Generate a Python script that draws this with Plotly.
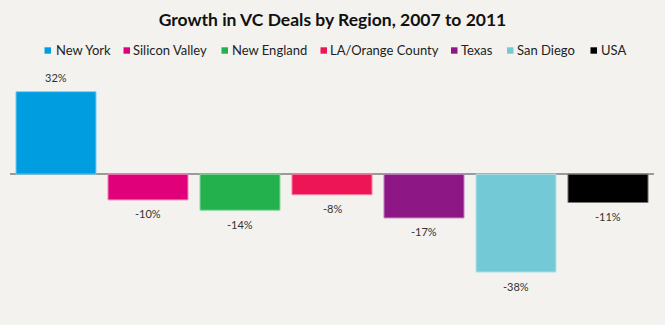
import plotly.graph_objects as go

regions = ["New York", "Silicon Valley", "New England", "LA/Orange County", "Texas", "San Diego", "USA"]
growth = [32, -10, -14, -8, -17, -38, -11]
colors = ["#009EE0", "#E0007A", "#22B14C", "#EE1556", "#8E1786", "#73CAD6", "#000000"]
edges = ["#7fcff0", "#f08fc0", "#90d8a5", "#f48aa9", "#c48bc2", "#b9e4ea", "#777777"]

W, H = 665, 325
ML, MR, MT, MB = 10, 11, 70, 15
PW = W - ML - MR
PH = H - MT - MB

# legend layout: pixel x of each swatch's left edge, text left edge, row centre y
legend_sw = [44.5, 123.5, 221.5, 320.5, 451, 507, 590.5]
legend_tx = [55.5, 133, 231.5, 330, 461, 517, 600.5]
legend_y = 50.5


def px(x):
    return (x - ML) / PW


def py(y):
    return (H - MB - y) / PH


fig = go.Figure()
for r, g, c, e in zip(regions, growth, colors, edges):
    fig.add_trace(go.Bar(
        x=[r], y=[g], name=r,
        marker=dict(color=c, line=dict(color=e, width=1)),
        showlegend=False,
    ))
    fig.add_annotation(
        x=r, y=g, xref="x", yref="y", text=f"{g}%", showarrow=False,
        yshift=14 if g >= 0 else -14, yanchor="middle",
        font=dict(size=11, color="#333333", family="Lato, sans-serif"),
    )

for r, c, sx, tx in zip(regions, colors, legend_sw, legend_tx):
    fig.add_shape(type="rect", xref="paper", yref="paper",
                  x0=px(sx), x1=px(sx + 6.5), y0=py(legend_y + 3.2), y1=py(legend_y - 3.2),
                  fillcolor=c, line=dict(width=0))
    fig.add_annotation(
        xref="paper", yref="paper",
        x=px(tx), y=py(legend_y),
        xanchor="left", yanchor="middle", showarrow=False, xshift=-2,
        text=r,
        font=dict(size=13, color="#222222", family="Lato, sans-serif"),
    )

fig.update_layout(
    width=W, height=H,
    paper_bgcolor="#F3F2EE", plot_bgcolor="#F3F2EE",
    margin=dict(l=ML, r=MR, t=MT, b=MB),
    barmode="overlay", bargap=0.13,
    title=dict(text="<b>Growth in VC Deals by Region, 2007 to 2011</b>", x=0.5, xanchor="center",
               y=1 - 19.5 / H, yanchor="middle",
               font=dict(size=17.5, color="#111111", family="Lato, sans-serif")),
    showlegend=False,
    xaxis=dict(showticklabels=False, showgrid=False, zeroline=False, showline=False, ticks=""),
    yaxis=dict(range=[-52.7, 40.4], showticklabels=False, showgrid=False,
               zeroline=True, zerolinecolor="#9a9a9a", zerolinewidth=1.5, ticks=""),
)

fig.write_html("out.html")
